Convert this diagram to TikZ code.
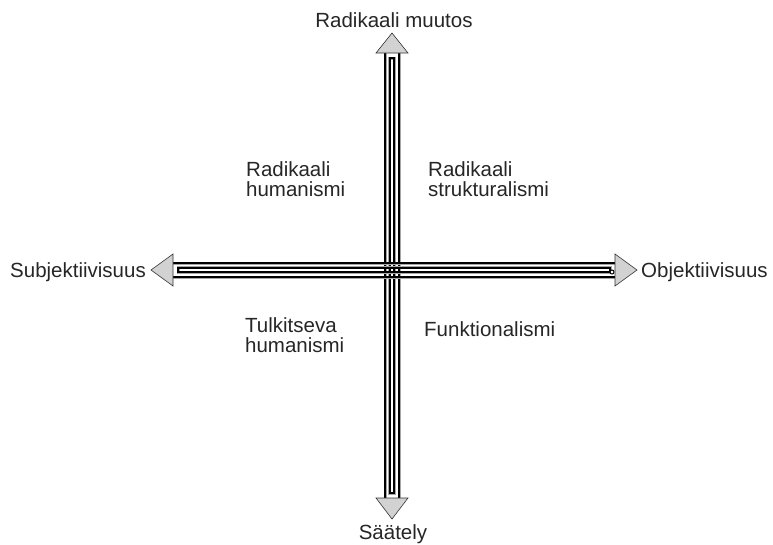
\documentclass[tikz,border=0pt]{standalone}
\usepackage{fontspec}
\setmainfont{Liberation Sans}
\begin{document}
\begin{tikzpicture}[x=1pt,y=-1pt,
  lbl/.style={font=\fontsize{20.5}{20}\selectfont, inner sep=0pt, text=black!85},
  quad/.style={lbl, align=left, anchor=base west},
  railhalo/.style={line width=3pt, gray!70},
  rail/.style={line width=1.5pt, black},
  head/.style={draw=black!80, line width=0.6pt, fill=gray!35, line join=miter}]
\useasboundingbox (0,0) rectangle (773,544);
% vertical shaft: outer rails, inner closed loop
\foreach \s in {railhalo,rail}{
  \draw[\s] (385,53) -- (385,498);
  \draw[\s] (399,53) -- (399,498);
  \draw[\s] (389.8,58) -- (389.8,493) -- (394.2,493) -- (394.2,58) -- cycle;
}
% horizontal shaft
\foreach \s in {railhalo,rail}{
  \draw[\s] (173,263) -- (615,263);
  \draw[\s] (173,277) -- (615,277);
  \draw[\s] (178,267.8) -- (610,267.8) -- (610,272.2) -- (178,272.2) -- cycle;
}
\draw[black, line width=1pt, fill=white] (612,272) circle (2pt);
% arrow heads
\draw[head] (376,53) -- (392,33) -- (408,53) -- cycle;
\draw[head] (376,498) -- (392,519) -- (408,498) -- cycle;
\draw[head] (173,254) -- (151,270) -- (173,286) -- cycle;
\draw[head] (615,254) -- (637,270) -- (615,286) -- cycle;
% axis labels
\node[lbl, anchor=base] (top) at (394,27) {Radikaali muutos};
\node[lbl, anchor=base] (bottom) at (393,539) {Säätely};
\node[lbl, anchor=base east] (left) at (146,277) {Subjektiivisuus};
\node[lbl, anchor=base west] (right) at (641,277) {Objektiivisuus};
% quadrant labels (anchored at the baseline of the last line)
\node[quad] (q1) at (246,196) {Radikaali\\humanismi};
\node[quad] (q2) at (428,196) {Radikaali\\strukturalismi};
\node[quad] (q3) at (245,352) {Tulkitseva\\humanismi};
\node[quad] (q4) at (424,336) {Funktionalismi};
\end{tikzpicture}
\end{document}
